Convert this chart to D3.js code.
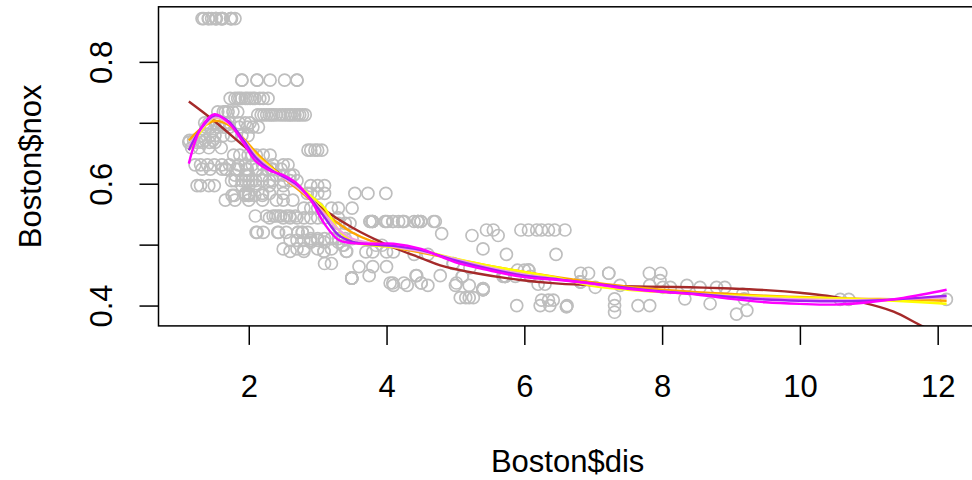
<!DOCTYPE html>
<html>
<head>
<meta charset="utf-8">
<script src="https://cdn.jsdelivr.net/npm/d3@7"></script>
<style>
  body{margin:0;background:#fff;}
  svg{display:block;font-family:"Liberation Sans",Arial,Helvetica,sans-serif;}
</style>
</head>
<body>
<svg id="chart" width="972" height="480"></svg>
<script>
// Boston$nox levels, and the Boston$dis values at each level
var noxLevels = [0.871, 0.770, 0.740, 0.718, 0.713, 0.700, 0.693, 0.679, 0.671, 0.668,
  0.659, 0.655, 0.647, 0.631, 0.624, 0.614, 0.605, 0.597, 0.584, 0.581,
  0.573, 0.560, 0.547, 0.544, 0.538, 0.535, 0.524, 0.520, 0.518, 0.515,
  0.510, 0.507, 0.504, 0.499, 0.493, 0.489, 0.488, 0.484, 0.469, 0.464,
  0.462, 0.458, 0.453, 0.449, 0.448, 0.445, 0.441, 0.439, 0.437, 0.435,
  0.433, 0.430, 0.428, 0.426, 0.419, 0.413, 0.411, 0.410, 0.409, 0.403,
  0.400, 0.398, 0.392, 0.389, 0.386];
var disAtLevel = [
  [1.3216, 1.3459, 1.4118, 1.4191, 1.4608, 1.5166, 1.5257, 1.5296, 1.5916, 1.6102, 1.6180, 1.6232, 1.7364, 1.7455, 1.7494, 1.80],
  [1.90, 1.90, 2.12, 2.12, 2.31, 2.52, 2.70, 2.70],
  [1.73, 1.80, 1.84, 1.87, 1.90, 1.95, 1.98, 2.02, 2.06, 2.09, 2.16, 2.21, 2.28],
  [1.55, 1.63, 1.66, 1.70, 1.77, 1.84],
  [2.13, 2.18, 2.22, 2.26, 2.30, 2.33, 2.36, 2.40, 2.45, 2.49, 2.53, 2.57, 2.60, 2.63, 2.67, 2.71, 2.74, 2.78, 2.82],
  [1.36, 1.42, 1.51, 1.58, 1.66, 1.72, 1.86, 1.95, 2.02],
  [1.38, 1.45, 1.56, 1.64, 1.72, 1.86, 1.98, 2.06, 2.14],
  [1.32, 1.44, 1.51, 1.63, 1.75, 1.90, 1.99],
  [1.14, 1.20, 1.30, 1.37, 1.48],
  [1.1296, 1.25, 1.33, 1.43, 1.51],
  [1.17, 1.28, 1.42, 1.60],
  [2.86, 2.90, 2.96, 3.00, 3.06],
  [1.78, 1.87, 1.99, 2.05, 2.11, 2.21, 2.31],
  [1.22, 1.30, 1.40, 1.50, 1.61, 1.72, 1.85, 1.95, 2.05, 2.20, 2.35, 2.50, 2.57],
  [1.3216, 1.4394, 1.6119, 1.6686, 1.6687, 1.8125, 1.8498, 1.9669, 1.9799, 2.1107, 2.1185, 2.2710, 2.3274, 2.3459, 2.4699],
  [1.80, 1.95, 2.00, 2.20, 2.40, 2.50, 2.60, 2.65],
  [1.75, 1.80, 1.90, 1.95, 2.00, 2.05, 2.10, 2.20, 2.30, 2.35, 2.50, 2.60, 2.70],
  [1.25, 1.30, 1.42, 1.50, 1.90, 2.00, 2.10, 2.30, 2.50, 2.90, 3.00, 3.10],
  [1.95, 2.00, 2.20, 2.30, 2.50, 2.85, 2.90, 3.00, 3.10, 3.54, 3.73, 3.99],
  [1.7572, 1.7883, 1.9444, 1.9929, 2.0063, 2.0869, 2.1974],
  [1.66, 1.80, 2.00, 2.20, 2.40, 2.50, 2.64],
  [2.80, 2.90, 3.00, 3.20, 3.30, 3.50],
  [2.0950, 2.2565, 2.3534, 2.3887, 2.4298, 2.4631, 2.5480, 2.5961, 2.6775],
  [2.30, 2.50, 2.60, 2.70, 2.80, 2.90, 3.00, 3.10, 3.30],
  [3.7598, 3.7598, 3.7872, 3.7965, 3.7965, 3.7979, 3.9769, 3.9900, 4.0123, 4.0900, 4.0952, 4.1750,
   4.2330, 4.2390, 4.2579, 4.3996, 4.4534, 4.4546, 4.4547, 4.4619, 4.4986, 4.4986, 4.6820, 4.7075],
  [3.30, 3.40, 3.47],
  [5.45, 5.55, 5.95, 6.06, 6.18, 6.25, 6.35, 6.44, 6.59],
  [2.1069, 2.1224, 2.2110, 2.4210, 2.4329, 2.5451, 2.7147, 2.7147, 2.7778, 2.7778, 2.8561],
  [4.80],
  [5.24, 5.62],
  [2.90, 3.00, 3.10, 3.20, 3.30, 3.40, 3.50],
  [2.60, 2.70, 2.80, 2.90, 3.00],
  [2.90, 3.10, 3.30],
  [3.3603, 3.3779, 3.8473, 3.9342],
  [2.50, 2.70, 2.80, 3.00, 3.20, 5.40],
  [3.0921, 3.0923, 3.4145, 3.4217, 2.60, 2.80],
  [3.70, 3.80, 4.00, 4.10],
  [4.40, 4.60, 5.74, 6.46],
  [4.9671, 4.9671, 3.10, 3.20],
  [3.60, 3.80, 4.00],
  [5.21],
  [6.0622, 6.0622, 6.0622, 5.90, 6.00],
  [6.8185, 6.9320, 7.2254, 7.2255, 7.8148, 7.9809],
  [3.7476, 4.4272, 4.4377, 4.7794],
  [5.1004, 5.1004, 5.6894, 5.7209, 5.7209, 5.7209, 5.7209, 5.8700, 6.0877],
  [3.4952, 3.4952, 3.4952, 3.4952, 3.4952],
  [7.97],
  [6.8147, 6.8147, 6.8147, 6.8147],
  [4.0522, 4.0905, 4.2515, 4.5026, 4.5026, 5.0141],
  [6.20, 6.30],
  [4.10, 4.30, 4.60, 5.00, 5.20, 7.39, 7.82, 8.36],
  [8.01, 8.12, 8.55, 8.79, 8.91, 7.03],
  [5.4011, 5.4011],
  [5.4007, 5.4007, 5.4007, 5.4007],
  [9.17],
  [5.07, 5.15, 5.20, 5.26],
  [7.31, 8.33, 9.19],
  [10.5857, 10.7103, 12.1265],
  [6.25, 6.35, 6.42],
  [8.6966],
  [5.89, 6.23, 6.37, 6.62, 7.31, 7.65, 7.82],
  [6.6115, 6.6115],
  [9.23],
  [7.31],
  [9.08]
];

// fitted curves on a common dis grid
var fitDis = [1.13, 1.3, 1.5, 1.7, 1.9, 2.1, 2.3, 2.5, 2.7, 2.9, 3.1, 3.3, 3.5, 3.8, 4.1, 4.5,
  5.0, 5.5, 6.0, 6.5, 7.0, 7.5, 8.0, 8.5, 9.0, 9.5, 10.0, 10.5, 11.0, 11.5, 12.13];
var fitOrange = [0.671, 0.690, 0.703, 0.697, 0.677, 0.652, 0.630, 0.610, 0.592, 0.573, 0.553, 0.535, 0.520, 0.505, 0.496, 0.487,
  0.476, 0.465, 0.455, 0.446, 0.438, 0.431, 0.426, 0.422, 0.419, 0.416, 0.414, 0.412, 0.411, 0.410, 0.408];
var fitYellow = [0.655, 0.685, 0.708, 0.700, 0.675, 0.648, 0.628, 0.612, 0.598, 0.580, 0.560, 0.525, 0.505, 0.499, 0.496, 0.490,
  0.477, 0.465, 0.455, 0.445, 0.432, 0.426, 0.422, 0.419, 0.4165, 0.415, 0.413, 0.412, 0.410, 0.407, 0.403];
var fitPurple = [0.655, 0.690, 0.712, 0.703, 0.675, 0.643, 0.624, 0.612, 0.598, 0.575, 0.545, 0.516, 0.505, 0.500, 0.498, 0.491,
  0.474, 0.460, 0.449, 0.443, 0.436, 0.429, 0.423, 0.419, 0.414, 0.410, 0.408, 0.407, 0.408, 0.411, 0.416];
var fitPink = [0.660, 0.688, 0.709, 0.700, 0.676, 0.646, 0.626, 0.610, 0.595, 0.575, 0.550, 0.525, 0.510, 0.502, 0.497, 0.489,
  0.476, 0.462, 0.451, 0.443, 0.435, 0.428, 0.423, 0.419, 0.415, 0.412, 0.410, 0.409, 0.409, 0.411, 0.413];
var fitMagenta = [0.633, 0.690, 0.714, 0.701, 0.671, 0.637, 0.622, 0.614, 0.600, 0.573, 0.534, 0.508, 0.5025, 0.5015, 0.5015, 0.493,
  0.471, 0.4576, 0.4466, 0.442, 0.436, 0.4275, 0.4225, 0.418, 0.411, 0.4055, 0.4028, 0.4016, 0.4055, 0.4127, 0.426];

// cubic polynomial fit (brown)
var polyDis = [1.13, 1.5, 2.0, 2.5, 2.82, 3.06, 3.5, 4.02, 4.5, 4.78, 5.3, 5.94, 6.5, 7.1, 7.8, 8.4,
  9.0, 9.56, 10.0, 10.39, 10.87, 11.36, 11.79, 12.13];
var polyNox = [0.735, 0.703, 0.655, 0.612, 0.583, 0.560, 0.528, 0.499, 0.478, 0.466, 0.453, 0.442, 0.436, 0.433, 0.431, 0.430,
  0.428, 0.425, 0.421, 0.416, 0.406, 0.390, 0.3655, 0.350];

var xTicks = [2, 4, 6, 8, 10, 12];
var yTicks = [0.4, 0.5, 0.6, 0.7, 0.8];
var yTickLabels = ["0.4", "", "0.6", "", "0.8"];

var points = [];
noxLevels.forEach(function(n, i){
  disAtLevel[i].forEach(function(d){ points.push([d, n]); });
});

var svg = d3.select("#chart");
// plot region in pixels (right edge runs past the window, as in the reference)
var plotL = 158.5, plotR = 976.7, plotT = 6.8, plotB = 325.9;

// R style: data range widened by 4% each side
function padExtent(ext){
  var r = ext[1] - ext[0];
  return [ext[0] - 0.04 * r, ext[1] + 0.04 * r];
}
var x = d3.scaleLinear()
  .domain(padExtent(d3.extent(points, function(p){ return p[0]; })))
  .range([plotL, plotR]);
var y = d3.scaleLinear()
  .domain(padExtent(d3.extent(points, function(p){ return p[1]; })))
  .range([plotB, plotT]);

svg.append("clipPath").attr("id", "plotclip")
  .append("rect")
  .attr("x", plotL).attr("y", plotT)
  .attr("width", plotR - plotL).attr("height", plotB - plotT);

var plot = svg.append("g").attr("clip-path", "url(#plotclip)");

plot.selectAll("circle.pt")
  .data(points)
  .enter().append("circle")
  .attr("class", "pt")
  .attr("cx", function(d){ return x(d[0]); })
  .attr("cy", function(d){ return y(d[1]); })
  .attr("r", 6.0)
  .style("fill", "none")
  .style("stroke", "#bebebe")
  .style("stroke-width", 1.7);

var line = d3.line()
  .x(function(d){ return x(d[0]); })
  .y(function(d){ return y(d[1]); })
  .curve(d3.curveCatmullRom.alpha(0.5));

function zipFit(xs, ys){
  return xs.map(function(v, i){ return [v, ys[i]]; });
}

var fits = [
  {vals: zipFit(polyDis, polyNox), color: "#a52a2a"},
  {vals: zipFit(fitDis, fitOrange), color: "#ffa500"},
  {vals: zipFit(fitDis, fitYellow), color: "#ffff00"},
  {vals: zipFit(fitDis, fitPink), color: "#f0a0e0"},
  {vals: zipFit(fitDis, fitPurple), color: "#a020f0"},
  {vals: zipFit(fitDis, fitMagenta), color: "#ff00ff"}
];

plot.selectAll("path.fit")
  .data(fits)
  .enter().append("path")
  .attr("class", "fit")
  .attr("d", function(d){ return line(d.vals); })
  .style("fill", "none")
  .style("stroke", function(d){ return d.color; })
  .style("stroke-width", 2.4);

// box
svg.append("rect")
  .attr("x", plotL).attr("y", plotT)
  .attr("width", plotR - plotL).attr("height", plotB - plotT)
  .style("fill", "none").style("stroke", "#000").style("stroke-width", 1.5);

// x axis
var xAxis = svg.append("g")
  .attr("transform", "translate(0," + plotB + ")")
  .call(d3.axisBottom(x).tickValues(xTicks).tickSize(19).tickSizeOuter(0).tickFormat(d3.format("d")));
xAxis.select(".domain").remove();
xAxis.selectAll(".tick line").style("stroke", "#000").style("stroke-width", 1.5);
xAxis.selectAll(".tick text")
  .attr("y", 71).attr("dy", null)
  .style("font-size", "31px").style("fill", "#000")
  .style("font-family", "'Liberation Sans',Arial,sans-serif");

// y axis
var yAxis = svg.append("g")
  .attr("transform", "translate(" + plotL + ",0)")
  .call(d3.axisLeft(y).tickValues(yTicks).tickSize(19).tickSizeOuter(0)
    .tickFormat(function(d, i){ return yTickLabels[i]; }));
yAxis.select(".domain").remove();
yAxis.selectAll(".tick line").style("stroke", "#000").style("stroke-width", 1.5);
yAxis.selectAll(".tick text")
  .attr("x", null).attr("dy", null)
  .attr("transform", "translate(-47,0) rotate(-90)")
  .attr("text-anchor", "middle")
  .style("font-size", "31px").style("fill", "#000")
  .style("font-family", "'Liberation Sans',Arial,sans-serif");

svg.append("text")
  .attr("x", (plotL + plotR) / 2).attr("y", 472)
  .attr("text-anchor", "middle")
  .style("font-size", "31px")
  .text("Boston$dis");

svg.append("text")
  .attr("transform", "translate(41," + ((plotT + plotB) / 2) + ") rotate(-90)")
  .attr("text-anchor", "middle")
  .style("font-size", "31px")
  .text("Boston$nox");
</script>
</body>
</html>
